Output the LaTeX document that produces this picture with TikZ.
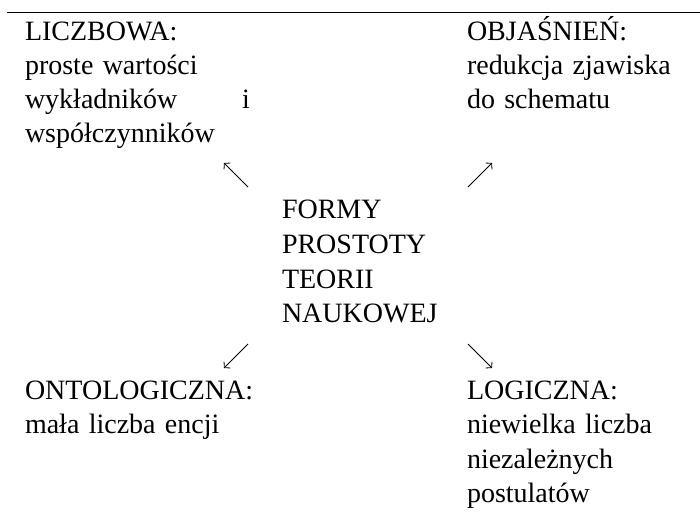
\documentclass[tikz,border=0pt]{standalone}
\usepackage{fontspec}
\setmainfont{Liberation Serif}
\usetikzlibrary{arrows.meta}
\begin{document}
\begin{tikzpicture}[x=1bp,y=-1bp,
  txt/.style={anchor=base west, inner sep=0pt, outer sep=0pt, align=left,
    font=\fontsize{28bp}{34bp}\selectfont},
  arr/.style={line width=0.8bp, -{Straight Barb[length=4bp,width=9bp]}}]
\useasboundingbox (0,0) rectangle (700,515);
\coordinate (l0) at (7,12.7);
\coordinate (l1) at (700,12.7);
\draw[line width=1bp] (l0) -- (l1);
\node[txt, text width=225bp] (liczb) at (25,40.5) {LICZBOWA:\\proste wartości\\wykładników\hfill i\\współczynników};
\node[txt, text width=225bp] (objas) at (467,40.5) {OBJAŚNIEŃ:\\redukcja zjawiska\\do schematu};
\node[txt, text width=170bp, font=\fontsize{28bp}{34.5bp}\selectfont] (formy) at (282,219) {FORMY\\PROSTOTY\\TEORII\\NAUKOWEJ};
\node[txt, text width=240bp, font=\fontsize{28bp}{34.5bp}\selectfont] (onto) at (25,399) {ONTOLOGICZNA:\\mała liczba encji};
\node[txt, text width=225bp, font=\fontsize{28bp}{34.5bp}\selectfont] (logi) at (467,399) {LOGICZNA:\\niewielka liczba\\niezależnych\\postulatów};
\coordinate (a1s) at (248,187); \coordinate (a1e) at (224,163);
\coordinate (a2s) at (468,187); \coordinate (a2e) at (492,163);
\coordinate (a3s) at (248,344); \coordinate (a3e) at (224,368);
\coordinate (a4s) at (468,344); \coordinate (a4e) at (492,368);
\draw[arr] (a1s) -- (a1e);
\draw[arr] (a2s) -- (a2e);
\draw[arr] (a3s) -- (a3e);
\draw[arr] (a4s) -- (a4e);
\end{tikzpicture}
\end{document}
